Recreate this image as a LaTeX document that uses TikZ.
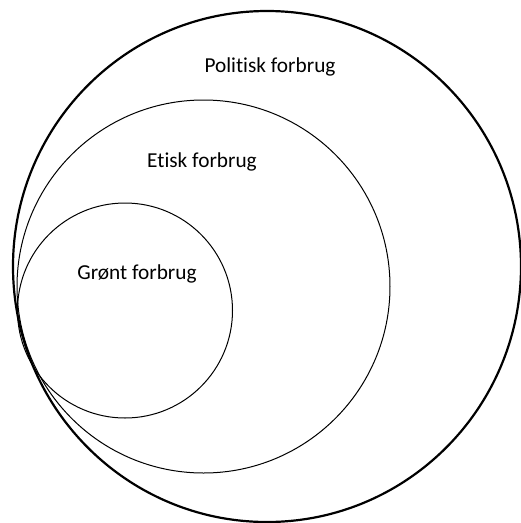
\documentclass[tikz,border=0pt]{standalone}
\usepackage{fontspec}
\setmainfont[Ligatures=NoCommon]{Carlito}
\begin{document}
\begin{tikzpicture}[x=1pt,y=-1pt,
  ring/.style={draw=black,line width=1pt},
  outerring/.style={draw=black,line width=2.2pt},
  lbl/.style={font=\fontsize{21.3}{24}\selectfont,inner sep=0pt,anchor=center}]
\useasboundingbox (0,0) rectangle (521,523);
% nested circles of consumption
\draw[outerring] (267,266.5) ellipse [x radius=254, y radius=255.5];
\draw[ring] (203.5,286.5) circle [radius=186.5];
\draw[ring] (125,310.5) circle [radius=107.5];
% labels
\node[lbl] (pol) at (270,67) {Politisk forbrug};
\node[lbl] (eti) at (202,162) {Etisk forbrug};
\node[lbl] (gro) at (137,274) {Grønt forbrug};
\end{tikzpicture}
\end{document}
